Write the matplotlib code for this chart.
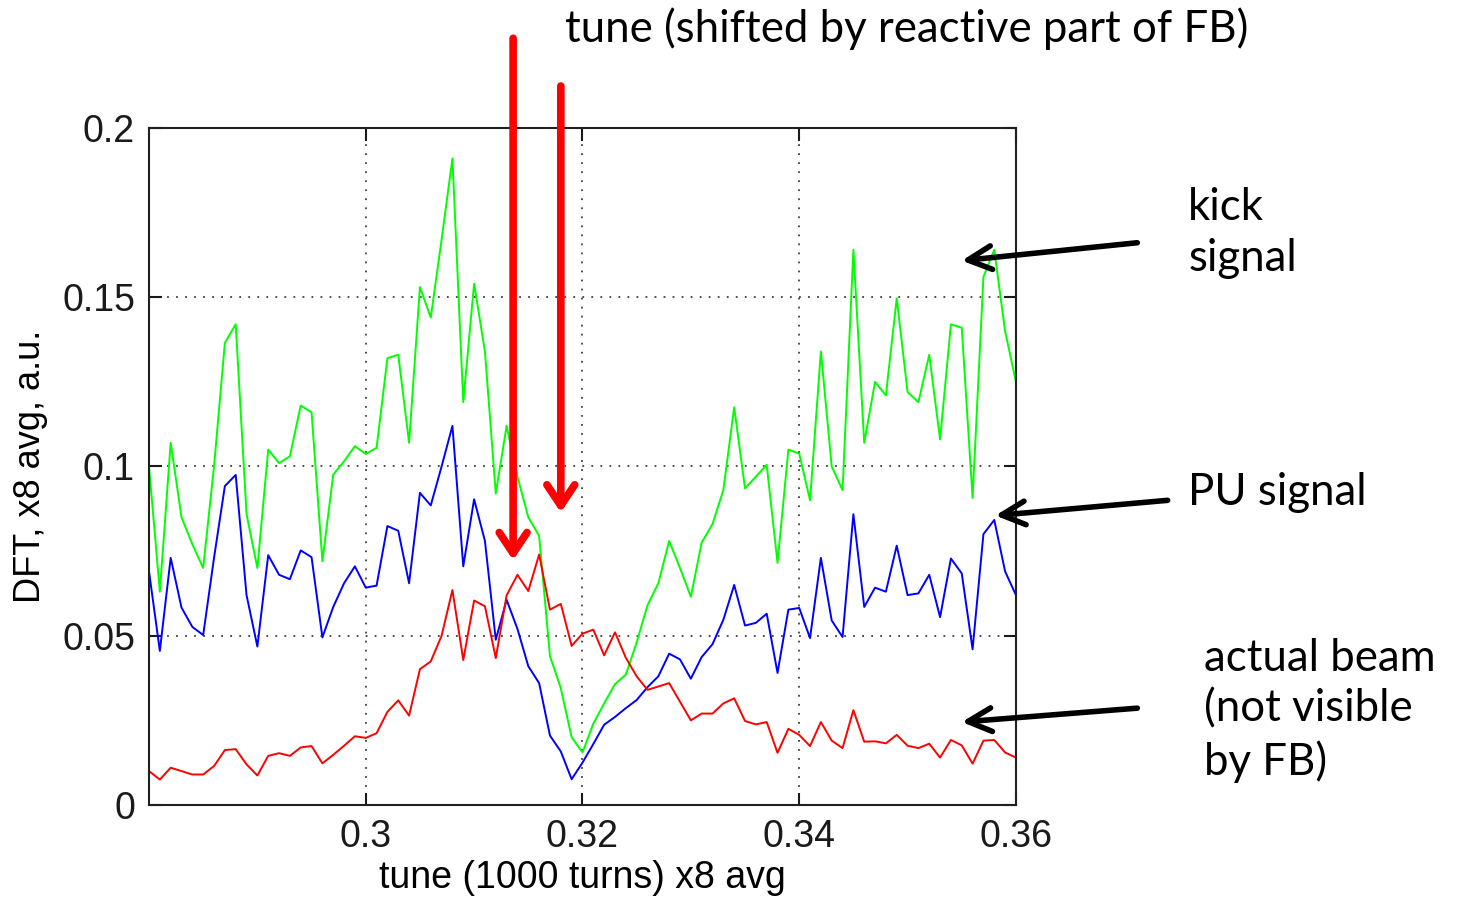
#!/usr/bin/env python3
"""DFT spectra of kick signal, PU signal and actual beam vs tune."""

import numpy as np
import matplotlib
matplotlib.use("Agg")
import matplotlib.pyplot as plt

plt.rcParams["font.family"] = ["Liberation Sans", "DejaVu Sans"]

# tune axis: 0.280 ... 0.360 in steps of 1/1000
TUNE_START = 0.280
TUNE_STEP = 0.001

kick_signal = [
    0.100, 0.063, 0.107, 0.085, 0.077, 0.070, 0.100, 0.1365, 0.142, 0.086,
    0.070, 0.105, 0.101, 0.103, 0.118, 0.116, 0.072, 0.0976, 0.1015, 0.106,
    0.1037, 0.1055, 0.132, 0.133, 0.107, 0.153, 0.144, 0.167, 0.191, 0.119,
    0.154, 0.134, 0.092, 0.112, 0.097, 0.085, 0.0795, 0.044, 0.0345, 0.020,
    0.0155, 0.024, 0.030, 0.0357, 0.0385, 0.048, 0.059, 0.0655, 0.078, 0.070,
    0.0615, 0.0775, 0.083, 0.093, 0.1175, 0.0935, 0.097, 0.1005, 0.0715, 0.105,
    0.1038, 0.090, 0.134, 0.100, 0.093, 0.164, 0.107, 0.125, 0.121, 0.1497,
    0.122, 0.119, 0.133, 0.108, 0.142, 0.141, 0.0907, 0.156, 0.164, 0.140,
    0.125,
]

pu_signal = [
    0.069, 0.0455, 0.073, 0.0583, 0.0526, 0.0502, 0.073, 0.0942, 0.0975, 0.062,
    0.0468, 0.0738, 0.068, 0.0667, 0.0752, 0.0732, 0.0495, 0.0585, 0.0655, 0.0705,
    0.0642, 0.0648, 0.0824, 0.081, 0.0655, 0.0922, 0.0885, 0.100, 0.112, 0.0705,
    0.0903, 0.078, 0.0488, 0.0606, 0.052, 0.041, 0.036, 0.0205, 0.0158, 0.0076,
    0.0125, 0.018, 0.0237, 0.026, 0.0286, 0.031, 0.0348, 0.038, 0.0447, 0.043,
    0.0373, 0.0437, 0.0475, 0.0547, 0.065, 0.053, 0.0538, 0.0565, 0.039, 0.0577,
    0.0582, 0.0493, 0.073, 0.0545, 0.0496, 0.0859, 0.0585, 0.0642, 0.063, 0.0766,
    0.062, 0.0625, 0.068, 0.0555, 0.0728, 0.0684, 0.046, 0.080, 0.0842, 0.069,
    0.062,
]

actual_beam = [
    0.010, 0.0075, 0.011, 0.010, 0.009, 0.009, 0.0115, 0.0162, 0.0165, 0.012,
    0.0087, 0.0145, 0.0153, 0.0145, 0.017, 0.0174, 0.0123, 0.0148, 0.0175, 0.0203,
    0.0198, 0.0212, 0.0275, 0.0309, 0.0264, 0.0401, 0.0424, 0.050, 0.0635, 0.0428,
    0.0604, 0.0587, 0.0434, 0.0619, 0.068, 0.0632, 0.0740, 0.0577, 0.0594, 0.047,
    0.0506, 0.0518, 0.0442, 0.051, 0.0435, 0.038, 0.034, 0.035, 0.036, 0.0305,
    0.025, 0.027, 0.027, 0.030, 0.0315, 0.0248, 0.0238, 0.0245, 0.0154, 0.0225,
    0.0207, 0.0174, 0.0245, 0.019, 0.0168, 0.028, 0.0187, 0.0188, 0.0182, 0.0207,
    0.0175, 0.0168, 0.0181, 0.014, 0.0192, 0.0176, 0.0122, 0.019, 0.0192, 0.0155,
    0.014,
]

x_ticks = [0.30, 0.32, 0.34, 0.36]
x_tick_labels = ["0.3", "0.32", "0.34", "0.36"]
y_ticks = [0, 0.05, 0.10, 0.15, 0.20]
y_tick_labels = ["0", "0.05", "0.1", "0.15", "0.2"]

# tune markers (shifted by reactive part of FB): x, arrow tip y, arrow tail y
tune_marks = [(0.3136, 0.0723, 0.2265), (0.3180, 0.0864, 0.2124)]


def main() -> None:
    tune = TUNE_START + TUNE_STEP * np.arange(len(kick_signal))

    fig = plt.figure(figsize=(14.58, 9.0), dpi=100)
    ax = fig.add_axes([0.1022, 0.1056, 0.5946, 0.7522])

    ax.plot(tune, kick_signal, color="#00ff00", lw=1.4)
    ax.plot(tune, pu_signal, color="#0000ff", lw=1.4)
    ax.plot(tune, actual_beam, color="#ff0000", lw=1.4)

    ax.set_xlim(0.28, 0.36)
    ax.set_ylim(0, 0.2)
    ax.set_xticks(x_ticks)
    ax.set_xticklabels(x_tick_labels)
    ax.set_yticks(y_ticks)
    ax.set_yticklabels(y_tick_labels)
    ax.tick_params(direction="in", length=9, width=1.5, labelsize=27,
                   top=True, right=True, pad=10, colors="#1a1a1a")
    for spine in ax.spines.values():
        spine.set_linewidth(1.5)
        spine.set_color("#202020")
    ax.grid(True, color="#404040", linestyle=(0, (1, 4)), linewidth=1.3)

    ax.set_xlabel("tune (1000 turns) x8 avg", fontsize=27, labelpad=4)
    ax.set_ylabel("DFT, x8 avg, a.u.", fontsize=26, labelpad=10)

    # red arrows marking the shifted tune
    for x, tip, tail in tune_marks:
        ax.annotate("", xy=(x, tip), xytext=(x, tail),
                    arrowprops=dict(arrowstyle="->,head_length=1.5,head_width=1.0",
                                    color="#ff0000", lw=5.5,
                                    shrinkA=0, shrinkB=0),
                    annotation_clip=False)

    note_font = dict(family=["Lato", "DejaVu Sans"], fontsize=31.5, color="black")
    ax.text(0.3184, 0.2292, "tune (shifted by reactive part of FB)",
            ha="left", va="center", clip_on=False, **note_font)
    ax.text(0.3759, 0.169, "kick\nsignal", ha="left", va="center",
            linespacing=1.3, clip_on=False, **note_font)
    ax.text(0.3759, 0.0923, "PU signal", ha="left", va="center",
            clip_on=False, **note_font)
    ax.text(0.3774, 0.028, "actual beam\n(not visible\nby FB)", ha="left",
            va="center", linespacing=1.3, clip_on=False, **note_font)

    # black arrows pointing at the curves
    black_arrows = [
        ((0.3550, 0.1608), (0.3712, 0.1661)),
        ((0.3581, 0.0855), (0.3740, 0.0900)),
        ((0.3550, 0.0245), (0.3712, 0.0286)),
    ]
    for tip, tail in black_arrows:
        ax.annotate("", xy=tip, xytext=tail,
                    arrowprops=dict(arrowstyle="->,head_length=1.7,head_width=0.85",
                                    color="black", lw=4,
                                    shrinkA=0, shrinkB=0),
                    annotation_clip=False)

    fig.savefig("out.png", dpi=100)
    plt.close(fig)


if __name__ == "__main__":
    main()
